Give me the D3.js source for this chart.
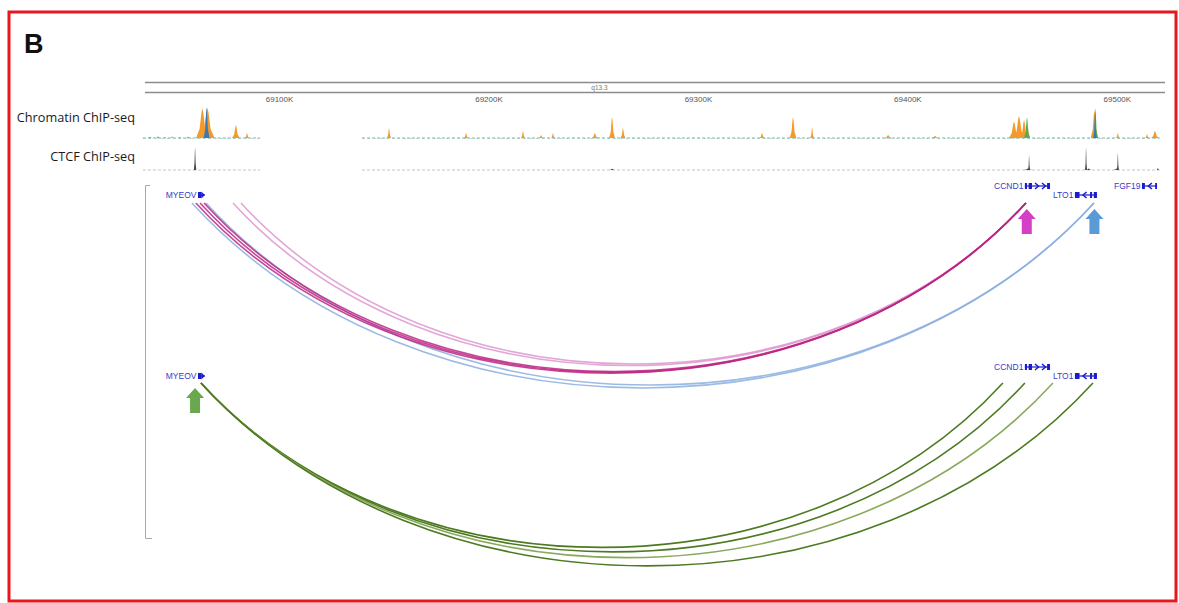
<!DOCTYPE html>
<html>
<head>
<meta charset="utf-8">
<script src="https://cdn.jsdelivr.net/npm/d3@7"></script>
<style>
  body { margin: 0; background: #fff; }
  svg text { font-family: "Liberation Sans", Arial, sans-serif; }
  svg text.track-name { font-family: "Open Sans", sans-serif; }
</style>
</head>
<body>
<svg id="chart" width="1179" height="603"></svg>
<script>
// genomic window shown (kb on chr11)
const region = [69036, 69523];
const tickValues = [69100, 69200, 69300, 69400, 69500];
const band = { name: "q13.3", center: 69253 };
const trackNames = ["Chromatin ChIP-seq", "CTCF ChIP-seq"];
// stretches of the window that have signal
const dataSegments = [[69035, 69091], [69139.6, 69520.5]];

// peaks: [position kb, signal 0-100, half width kb]
const chromOrange = [
  [69048.9, 5, 0.8], [69052.7, 4, 0.8], [69063.4, 90, 3.0], [69065.8, 92, 3.4],
  [69079.4, 39, 1.8], [69084.7, 15, 1.0], [69152.5, 30, 1.0], [69189.3, 15, 1.0],
  [69216.5, 21, 1.0], [69225.1, 9, 1.0], [69230.8, 15, 0.9], [69250.8, 15, 1.4],
  [69259.0, 64, 1.4], [69264.2, 30, 1.2], [69330.6, 15, 1.2], [69345.4, 64, 1.6],
  [69354.5, 33, 0.9], [69390.8, 9, 1.6], [69413.2, 6, 1.8], [69450.9, 50, 2.4],
  [69453.3, 67, 2.6], [69455.7, 55, 2.0], [69457.4, 40, 1.2], [69489.3, 85, 1.8],
  [69500.5, 15, 0.9], [69514.4, 12, 0.9], [69518.2, 21, 1.8]
];
const chromGreen = [
  [69038.4, 4, 0.8], [69042.2, 5, 0.8], [69045.5, 3, 0.7], [69056.5, 4, 0.8],
  [69457.1, 64, 1.4], [69489.8, 92, 1.1]
];
const chromBlue = [
  [69065.4, 94, 1.4], [69489.6, 79, 0.8]
];
const ctcfPeaks = [
  [69059.9, 92, 0.6], [69259.0, 5, 1.5], [69457.6, 6, 2.0], [69458.1, 60, 0.5],
  [69485.3, 92, 0.5], [69486.6, 6, 1.2], [69499.8, 6, 1.2], [69500.5, 68, 0.5],
  [69519.6, 8, 0.6]
];

// gene models; row 0 = upper line, row 1 = lower line of the gene track
const genes = [
  { name: "MYEOV", start: 69061.3, end: 69064.6, strand: "+", row: 1, exons: [[69061.3, 69062.9]] },
  { name: "CCND1", start: 69456.1, end: 69468.1, strand: "+", row: 0,
    exons: [[69456.1, 69457.1], [69457.9, 69459.5], [69466.7, 69468.1]] },
  { name: "LTO1", start: 69480.0, end: 69490.5, strand: "-", row: 1,
    exons: [[69480.0, 69482.2], [69487.2, 69488.2], [69489.0, 69490.5]] },
  { name: "FGF19", start: 69512.0, end: 69519.2, strand: "-", row: 0,
    exons: [[69512.0, 69513.4], [69518.3, 69519.2]] }
];
const genesTop = ["MYEOV", "CCND1", "LTO1", "FGF19"];
const genesBottom = ["MYEOV", "CCND1", "LTO1"];

// interactions: [group, anchor 1 kb, anchor 2 kb]
const arcsTop = [
  ["pink", 69078.0, 69456.6], ["pink", 69081.8, 69456.6],
  ["blue", 69058.4, 69489.1], ["blue", 69065.1, 69489.1],
  ["magenta", 69060.3, 69456.6], ["magenta", 69062.3, 69456.6], ["magenta", 69064.2, 69456.6]
];
const arcsBottom = [
  ["green", 69062.7, 69445.6], ["green", 69062.7, 69456.1],
  ["lightgreen", 69062.7, 69469.5], ["green", 69062.7, 69488.6]
];

// highlight arrows: [panel, position kb, colour group]
const markers = [
  ["top", 69457.0, "magentaArrow"], ["top", 69489.3, "blueArrow"], ["bottom", 69059.9, "greenArrow"]
];

const colors = {
  pink: "#dd97d0", magenta: "#bc2483", blue: "#8aaedf", green: "#4d7a21", lightgreen: "#8aa95e",
  magentaArrow: "#d43fc8", blueArrow: "#5b9bd5", greenArrow: "#6aa84f",
  orange: "#f39a2b", chromGreen: "#5aa95c", chromBlue: "#3b78b6", ctcf: "#4a4a4a", gene: "#1c1ccf"
};

const svg = d3.select("#chart");
const x = d3.scaleLinear().domain(region).range([145, 1165]);
const yChrom = d3.scaleLinear().domain([0, 100]).range([138, 105]);
const yCtcf = d3.scaleLinear().domain([0, 100]).range([170, 145]);

// frame and panel letter
svg.append("rect").attr("x", 9).attr("y", 12).attr("width", 1167).attr("height", 589)
  .attr("fill", "none").attr("stroke", "#e8171c").attr("stroke-width", 3);
svg.append("text").attr("x", 24).attr("y", 53).text("B")
  .attr("font-size", 27).attr("font-weight", "bold").attr("fill", "#111");

// ideogram strip
[82.5, 92.5].forEach(yy => {
  svg.append("line").attr("x1", x.range()[0]).attr("x2", x.range()[1])
    .attr("y1", yy).attr("y2", yy).attr("stroke", "#8c8c8c").attr("stroke-width", 1.3);
});
svg.append("text").attr("x", x(band.center)).attr("y", 90).attr("text-anchor", "middle")
  .attr("font-size", 6.5).attr("fill", "#777").text(band.name);

// ruler
const axis = d3.axisBottom(x).tickValues(tickValues).tickSize(0).tickPadding(4)
  .tickFormat(d => d + "K");
const axG = svg.append("g").attr("transform", "translate(0,92)").call(axis);
axG.select(".domain").remove();
axG.selectAll("text").attr("font-size", 8).attr("fill", "#555");

// track names
svg.append("text").attr("class", "track-name").attr("x", 135).attr("y", 122).attr("text-anchor", "end")
  .attr("font-size", 12.7).attr("fill", "#1a1a1a").text(trackNames[0]);
svg.append("text").attr("class", "track-name").attr("x", 135).attr("y", 161).attr("text-anchor", "end")
  .attr("font-size", 12.7).attr("fill", "#1a1a1a").text(trackNames[1]);

// baselines of signal tracks
dataSegments.forEach(s => {
  svg.append("line").attr("x1", x(s[0])).attr("x2", x(s[1])).attr("y1", yChrom(0)).attr("y2", yChrom(0))
    .attr("stroke", "#7dbb8a").attr("stroke-width", 1).attr("stroke-dasharray", "3,2");
  svg.append("line").attr("x1", x(s[0])).attr("x2", x(s[1])).attr("y1", yChrom(0) + 0.5).attr("y2", yChrom(0) + 0.5)
    .attr("stroke", "#8fb3d9").attr("stroke-width", 0.6).attr("stroke-dasharray", "2,4");
  svg.append("line").attr("x1", x(s[0])).attr("x2", x(s[1])).attr("y1", yCtcf(0)).attr("y2", yCtcf(0))
    .attr("stroke", "#b5b5b5").attr("stroke-width", 0.8).attr("stroke-dasharray", "3,2");
});

function peakPts(p) {
  const [c, v, hw] = p;
  return [[c - hw, 0], [c - hw * 0.45, v * 0.3], [c - hw * 0.15, v * 0.85], [c, v],
          [c + hw * 0.15, v * 0.85], [c + hw * 0.45, v * 0.3], [c + hw, 0]];
}
function drawPeaks(list, yScale, color) {
  const area = d3.area().x(d => x(d[0])).y0(yScale(0)).y1(d => yScale(d[1]));
  svg.append("g").selectAll("path").data(list).enter().append("path")
    .attr("d", d => area(peakPts(d))).attr("fill", color);
}
drawPeaks(chromOrange, yChrom, colors.orange);
drawPeaks(chromGreen, yChrom, colors.chromGreen);
drawPeaks(chromBlue, yChrom, colors.chromBlue);
drawPeaks(ctcfPeaks, yCtcf, colors.ctcf);

// bracket of the interaction track
svg.append("path").attr("d", "M150,185.5 H145.5 V538.5 H152")
  .attr("fill", "none").attr("stroke", "#a8a8a8").attr("stroke-width", 1);

// gene track
function drawGenes(names, rowY) {
  const g = svg.append("g");
  genes.filter(d => names.includes(d.name)).forEach(d => {
    const yy = rowY[d.row];
    g.append("text").attr("x", x(d.start) - 1.5).attr("y", yy + 3).attr("text-anchor", "end")
      .attr("font-size", 8.5).attr("fill", "#3b3bc9").text(d.name);
    g.append("line").attr("x1", x(d.start)).attr("x2", x(d.end)).attr("y1", yy).attr("y2", yy)
      .attr("stroke", colors.gene).attr("stroke-width", 1.2);
    d.exons.forEach(e => {
      g.append("rect").attr("x", x(e[0])).attr("y", yy - 3)
        .attr("width", Math.max(1.5, x(e[1]) - x(e[0]))).attr("height", 6).attr("fill", colors.gene);
    });
    // strand chevrons in introns / arrow head on single-exon gene
    const dir = d.strand === "+" ? 1 : -1;
    if (d.exons.length === 1) {
      const x0 = x(d.exons[0][1]), x1 = x(d.end);
      g.append("path").attr("d", `M${x0},${yy - 3.5} L${x1},${yy} L${x0},${yy + 3.5} Z`).attr("fill", colors.gene);
    } else {
      for (let i = 0; i < d.exons.length - 1; i++) {
        const a = x(d.exons[i][1]), b = x(d.exons[i + 1][0]);
        for (let cx = a + 5; cx < b - 2; cx += 7) {
          g.append("path").attr("d", `M${cx - 2 * dir},${yy - 3} L${cx + 1.5 * dir},${yy} L${cx - 2 * dir},${yy + 3}`)
            .attr("fill", "none").attr("stroke", colors.gene).attr("stroke-width", 1.5);
        }
      }
    }
  });
}
drawGenes(genesTop, [186, 195]);
drawGenes(genesBottom, [367, 376]);

// interaction arcs: cubic curves whose lowest point sits depthRatio * span below the anchors
const depthRatio = 0.205;
function arcPath(a, y0) {
  const x1 = x(a[1]), x2 = x(a[2]);
  const w = x2 - x1;
  const h = depthRatio * w / 0.75;
  const c = 0.25 * w;
  return `M${x1},${y0} C${x1 + c},${y0 + h} ${x2 - c},${y0 + h} ${x2},${y0}`;
}
svg.append("g").selectAll("path").data(arcsTop).enter().append("path")
  .attr("d", d => arcPath(d, 203)).attr("fill", "none")
  .attr("stroke", d => colors[d[0]]).attr("stroke-width", 1.6).attr("stroke-opacity", 0.85);
svg.append("g").selectAll("path").data(arcsBottom).enter().append("path")
  .attr("d", d => arcPath(d, 383)).attr("fill", "none")
  .attr("stroke", d => colors[d[0]]).attr("stroke-width", 1.6);

// block arrows
function blockArrow(cx, tip) {
  return `M${cx},${tip} L${cx + 9},${tip + 10} L${cx + 5},${tip + 10} L${cx + 5},${tip + 25} ` +
         `L${cx - 5},${tip + 25} L${cx - 5},${tip + 10} L${cx - 9},${tip + 10} Z`;
}
svg.append("g").selectAll("path").data(markers).enter().append("path")
  .attr("d", d => blockArrow(x(d[1]), d[0] === "top" ? 209 : 388))
  .attr("fill", d => colors[d[2]]);
</script>
</body>
</html>
